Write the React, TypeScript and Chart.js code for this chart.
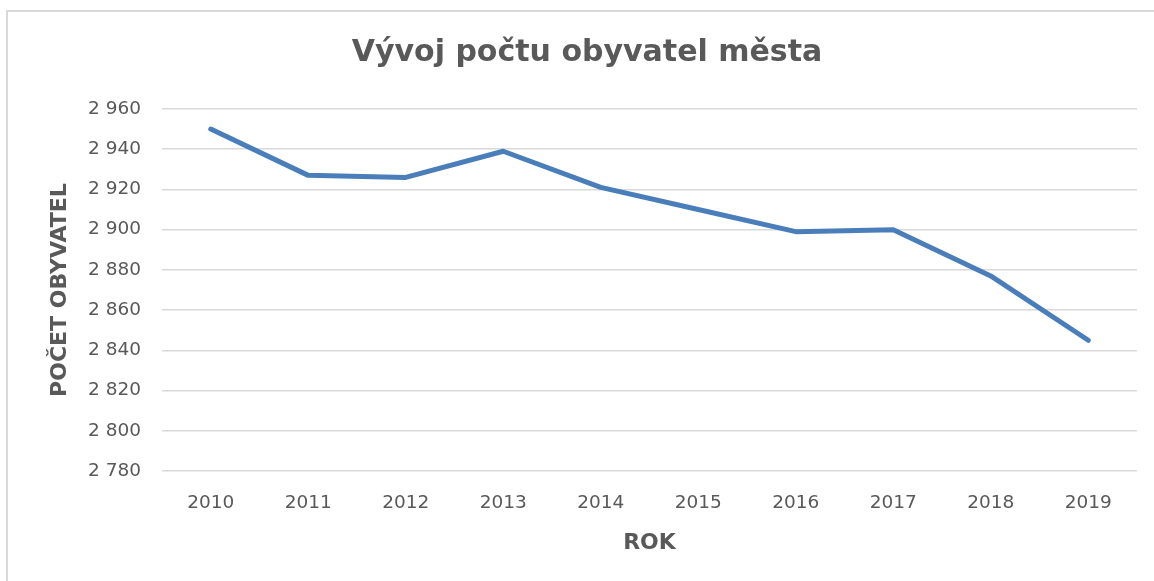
import React, { useEffect, useRef } from "react";
import { Chart, registerables } from "chart.js";

Chart.register(...registerables);

const years: string[] = ["2010", "2011", "2012", "2013", "2014", "2015", "2016", "2017", "2018", "2019"];
const population: number[] = [2950, 2927, 2926, 2939, 2921, 2910, 2899, 2900, 2877, 2845];
const yMin = 2780;
const yMax = 2960;
const yStep = 20;

const chartTitle = "Vývoj počtu obyvatel města";
const yTitle = "POČET OBYVATEL";
const xTitle = "ROK";

const fmt = (v: number) => {
  const s = String(Math.round(v));
  return s.length > 3 ? s.slice(0, s.length - 3) + "\u00a0" + s.slice(s.length - 3) : s;
};

export default function App() {
  const ref = useRef<HTMLCanvasElement | null>(null);

  useEffect(() => {
    if (!ref.current) return;
    const grey = "#595959";
    const chart = new Chart(ref.current, {
      type: "line",
      data: {
        labels: years,
        datasets: [
          {
            data: population,
            borderColor: "#4a7ebb",
            backgroundColor: "#4a7ebb",
            borderWidth: 5,
            borderCapStyle: "round",
            borderJoinStyle: "round",
            pointRadius: 0,
            tension: 0,
          },
        ],
      },
      options: {
        animation: false,
        responsive: false,
        maintainAspectRatio: false,
        layout: { padding: { left: 37, right: 17, top: 0, bottom: 21 } },
        plugins: {
          legend: { display: false },
          tooltip: { enabled: false },
          title: {
            display: true,
            text: chartTitle,
            color: grey,
            font: { family: "DejaVu Sans", size: 30, weight: "bold" },
            padding: { top: 35, bottom: 38 },
          },
        },
        scales: {
          x: {
            offset: true,
            grid: { display: false, drawTicks: false },
            border: { display: false },
            ticks: {
              color: grey,
              font: { family: "DejaVu Sans", size: 18.5 },
              padding: 21,
              maxRotation: 0,
              autoSkip: false,
            },
            title: {
              display: true,
              text: xTitle,
              color: grey,
              font: { family: "DejaVu Sans", size: 22, weight: "bold" },
              padding: { top: 4, bottom: 4 },
            },
            afterFit: (scale: any) => {
              scale.height = 89;
            },
          },
          y: {
            min: yMin,
            max: yMax,
            grid: { color: "#d9d9d9", lineWidth: 1.5, drawTicks: false },
            border: { display: false },
            ticks: {
              stepSize: yStep,
              color: grey,
              font: { family: "DejaVu Sans", size: 18.5 },
              padding: 21,
              callback: (v: any) => fmt(Number(v)),
            },
            title: {
              display: true,
              text: yTitle,
              color: grey,
              font: { family: "DejaVu Sans", size: 22, weight: "bold" },
              padding: { top: 10, bottom: 4 },
            },
            afterFit: (scale: any) => {
              scale.width = 125;
            },
          },
        },
      },
    });
    return () => chart.destroy();
  }, []);

  return (
    <div
      style={{
        position: "fixed",
        left: 0,
        top: 0,
        width: 1154,
        height: 581,
        overflow: "hidden",
        background: "#ffffff",
      }}
    >
      <div
        style={{
          position: "absolute",
          left: 6,
          top: 10,
          width: 1300,
          height: 800,
          border: "2px solid #d9d9d9",
          boxSizing: "border-box",
        }}
      />
      <canvas
        ref={ref}
        width={1154}
        height={581}
        style={{ position: "absolute", left: 0, top: 0, width: 1154, height: 581 }}
      />
    </div>
  );
}
